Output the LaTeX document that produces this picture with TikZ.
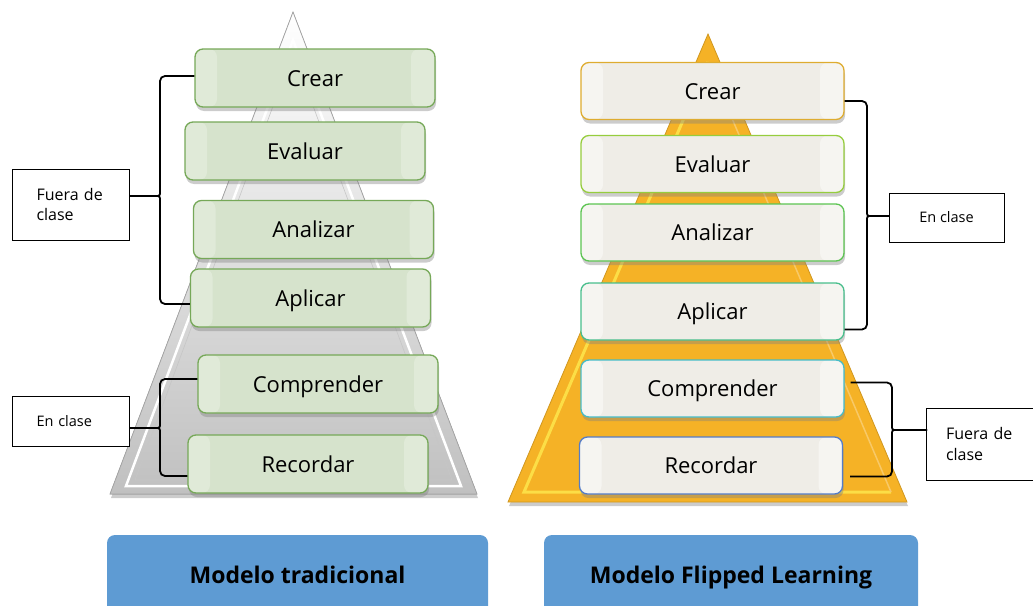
\documentclass[tikz,border=0pt]{standalone}
\usepackage{fontspec}
\setmainfont{Open Sans}
\usetikzlibrary{positioning,shadows}

\definecolor{verdeCaja}{RGB}{214,227,204}
\definecolor{verdeBorde}{RGB}{118,168,88}
\definecolor{grisPir}{RGB}{192,192,192}
\definecolor{oroPir}{RGB}{245,178,38}
\definecolor{oroClaro}{RGB}{252,222,70}
\definecolor{cremaCaja}{RGB}{239,237,231}
\definecolor{azulModelo}{RGB}{94,155,211}
\definecolor{bCrear}{RGB}{222,172,48}
\definecolor{bEvaluar}{RGB}{150,205,62}
\definecolor{bAnalizar}{RGB}{92,196,82}
\definecolor{bAplicar}{RGB}{72,190,140}
\definecolor{bComprender}{RGB}{70,188,200}
\definecolor{bRecordar}{RGB}{84,124,200}

\begin{document}
\begin{tikzpicture}[x=1pt, y=-1pt, thick,
  sombra/.style={drop shadow={opacity=0.4, shadow xshift=1pt, shadow yshift=-4pt}},
  bandas/.style={path picture={
    \fill[white, opacity=#1] (path picture bounding box.south west) rectangle ([xshift=22pt]path picture bounding box.north west);
    \fill[white, opacity=#1] ([xshift=-24pt]path picture bounding box.south east) rectangle (path picture bounding box.north east);}},
  nivel/.style={rectangle, rounded corners=8pt, draw=verdeBorde, line width=1.3pt, fill=verdeCaja, minimum width=240pt, minimum height=58pt, inner sep=0pt, text height=16pt, text depth=0pt, font=\fontsize{22}{26}\selectfont, sombra, bandas=0.25},
  nivelF/.style={nivel, fill=cremaCaja, minimum width=263pt, minimum height=57pt, bandas=0.45},
  nota/.style={rectangle, draw=black, line width=0.9pt, fill=white, inner sep=0pt, font=\fontsize{16}{20.5}\selectfont},
  modelo/.style={rectangle, rounded corners=8pt, fill=azulModelo, minimum height=80pt, inner sep=0pt, text height=16pt, text depth=0pt, font=\fontsize{23}{27}\selectfont\bfseries},
  llave/.style={draw=black, line width=1.8pt, rounded corners=5pt}]

  \useasboundingbox (0,0) rectangle (1033,605);
  \clip (0,0) rectangle (1033,605);

  % Piramides
  \fill[sombra, top color=white, bottom color=grisPir, draw=gray!70, line width=0.8pt] (293,12) -- (477,494) -- (110,494) -- cycle;
  \draw[white, line width=2.5pt] (293,40) -- (461,486) -- (126,486) -- cycle;
  \draw[gray!45, line width=0.6pt] (293,52) -- (452,480) -- (135,480) -- cycle;

  \fill[sombra, oroPir, draw=oroPir!85!black, line width=0.8pt] (708,34) -- (907,502) -- (508,502) -- cycle;
  \draw[oroClaro, line width=3pt] (708,62) -- (524,492) -- (891,492);
  \draw[oroPir!70!white, line width=1.5pt] (708,62) -- (891,492);

  % Niveles (modelo tradicional)
  \node[nivel] (crear1) at (315,78) {Crear};
  \node[nivel] (evaluar1) at (305,151) {Evaluar};
  \node[nivel] (analizar1) at (313.5,229.5) {Analizar};
  \node[nivel] (aplicar1) at (310.5,298) {Aplicar};
  \node[nivel] (comprender1) at (318,384) {Comprender};
  \node[nivel] (recordar1) at (308,464) {Recordar};

  % Niveles (flipped learning)
  \node[nivelF, draw=bCrear] (crear2) at (712.5,91) {Crear};
  \node[nivelF, draw=bEvaluar] (evaluar2) at (712.5,164) {Evaluar};
  \node[nivelF, draw=bAnalizar] (analizar2) at (712.5,232.5) {Analizar};
  \node[nivelF, draw=bAplicar] (aplicar2) at (712.5,311.5) {Aplicar};
  \node[nivelF, draw=bComprender] (comprender2) at (712.5,388.5) {Comprender};
  \node[nivelF, draw=bRecordar] (recordar2) at (711,465.5) {Recordar};

  % Notas
  \node[nota, minimum width=117pt, minimum height=71pt, text width=68pt, align=left] (fuera1) at (70.5,204.5) {Fuera de\\clase};
  \node[nota, minimum width=117pt, minimum height=50pt, text width=68pt, align=left, font=\fontsize{14.5}{18}\selectfont] (enclase1) at (70.5,421) {En clase};
  \node[nota, minimum width=115pt, minimum height=49pt, align=center, font=\fontsize{14.5}{18}\selectfont] (enclase2) at (946.5,217.5) {En clase};
  \node[nota, minimum width=107pt, minimum height=72pt, text width=68pt, align=left] (fuera2) at (980,444) {Fuera de\\clase};

  % Llaves
  \coordinate (p1) at (129,196);
  \coordinate (p2) at (129,428);
  \coordinate (p3) at (889,216);
  \coordinate (p4) at (927,430);

  \draw[llave] ([yshift=2pt]crear1.west) -| (160,186) .. controls (160,196) .. (150,196) -- (p1);
  \draw[llave] (p1) -- (150,196) .. controls (160,196) .. (160,206) |- ([yshift=-6pt]aplicar1.west);

  \draw[llave] ([yshift=5pt]comprender1.west) -| (160,418) .. controls (160,428) .. (150,428) -- (p2);
  \draw[llave] (p2) -- (150,428) .. controls (160,428) .. (160,438) |- ([yshift=-12pt]recordar1.west);

  \draw[llave] ([yshift=-10pt]crear2.east) -| (867,206) .. controls (867,216) .. (877,216) -- (p3);
  \draw[llave] (p3) -- (877,216) .. controls (867,216) .. (867,226) |- ([yshift=-18pt]aplicar2.east);

  \draw[llave] ([xshift=6pt, yshift=6pt]comprender2.east) -| (892,420) .. controls (892,430) .. (902,430) -- (p4);
  \draw[llave] (p4) -- (902,430) .. controls (892,430) .. (892,440) |- ([xshift=7pt, yshift=-11pt]recordar2.east);

  % Modelos
  \node[modelo, minimum width=381pt] (trad) at (297.5,575) {Modelo tradicional};
  \node[modelo, minimum width=374pt] (flip) at (731,575) {Modelo Flipped Learning};
\end{tikzpicture}
\end{document}
